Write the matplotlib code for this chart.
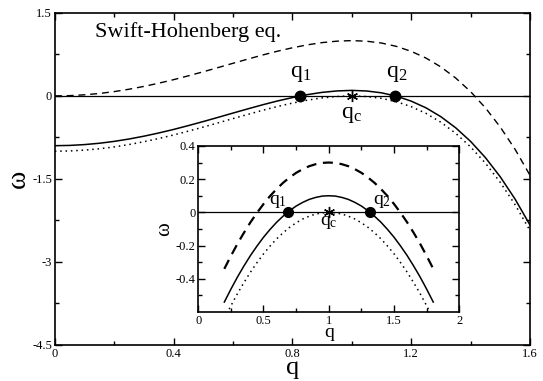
import matplotlib
matplotlib.use("Agg")
import matplotlib.pyplot as plt

plt.rcParams['font.family'] = ['Liberation Serif', 'DejaVu Serif']

# --- main panel data ---
q_main = [0.00, 0.05, 0.10, 0.15, 0.20, 0.25, 0.30, 0.35, 0.40, 0.45, 0.50,
          0.55, 0.60, 0.65, 0.70, 0.75, 0.80, 0.85, 0.90, 0.95, 1.00, 1.05,
          1.10, 1.15, 1.20, 1.25, 1.30, 1.35, 1.40, 1.45, 1.50, 1.55, 1.60]
w_main_solid = [-0.900, -0.895, -0.880, -0.856, -0.822, -0.779, -0.728, -0.670,
                -0.606, -0.536, -0.463, -0.387, -0.310, -0.234, -0.160, -0.091,
                -0.030, 0.023, 0.064, 0.090, 0.100, 0.089, 0.056, -0.004,
                -0.094, -0.216, -0.376, -0.577, -0.822, -1.116, -1.463, -1.867, -2.334]
w_main_dotted = [-1.000, -0.995, -0.980, -0.956, -0.922, -0.879, -0.828, -0.770,
                 -0.706, -0.636, -0.563, -0.487, -0.410, -0.334, -0.260, -0.191,
                 -0.130, -0.077, -0.036, -0.010, 0.000, -0.011, -0.044, -0.104,
                 -0.194, -0.316, -0.476, -0.677, -0.922, -1.216, -1.563, -1.967, -2.434]
w_main_dashed = [0.000, 0.005, 0.020, 0.044, 0.078, 0.121, 0.172, 0.230,
                 0.294, 0.364, 0.437, 0.513, 0.590, 0.666, 0.740, 0.809,
                 0.870, 0.923, 0.964, 0.990, 1.000, 0.989, 0.956, 0.896,
                 0.806, 0.684, 0.524, 0.323, 0.078, -0.216, -0.563, -0.967, -1.434]
q_main_marked = [0.827, 1.147]
q_main_crit = 1.0

# --- inset data ---
q_ins = [0.20, 0.25, 0.30, 0.35, 0.40, 0.45, 0.50, 0.55, 0.60, 0.65, 0.70,
         0.75, 0.80, 0.85, 0.90, 0.95, 1.00, 1.05, 1.10, 1.15, 1.20, 1.25,
         1.30, 1.35, 1.40, 1.45, 1.50, 1.55, 1.60, 1.65, 1.70, 1.75, 1.80]
w_ins_dotted = [-0.640, -0.563, -0.490, -0.423, -0.360, -0.303, -0.250, -0.203,
                -0.160, -0.123, -0.090, -0.063, -0.040, -0.023, -0.010, -0.003,
                0.000, -0.003, -0.010, -0.023, -0.040, -0.063, -0.090, -0.123,
                -0.160, -0.203, -0.250, -0.303, -0.360, -0.423, -0.490, -0.563, -0.640]
w_ins_solid = [-0.540, -0.463, -0.390, -0.323, -0.260, -0.203, -0.150, -0.103,
               -0.060, -0.023, 0.010, 0.038, 0.060, 0.078, 0.090, 0.098,
               0.100, 0.098, 0.090, 0.078, 0.060, 0.038, 0.010, -0.023,
               -0.060, -0.103, -0.150, -0.203, -0.260, -0.323, -0.390, -0.463, -0.540]
w_ins_dashed = [-0.340, -0.263, -0.190, -0.123, -0.060, -0.003, 0.050, 0.098,
                0.140, 0.178, 0.210, 0.238, 0.260, 0.278, 0.290, 0.298,
                0.300, 0.298, 0.290, 0.278, 0.260, 0.238, 0.210, 0.178,
                0.140, 0.098, 0.050, -0.003, -0.060, -0.123, -0.190, -0.263, -0.340]
q_ins_marked = [0.684, 1.316]
q_ins_crit = 1.0

main_xticks = [0, 0.4, 0.8, 1.2, 1.6]
main_xtick_labels = ['0', '0.4', '0.8', '1.2', '1.6']
main_yticks = [-4.5, -3, -1.5, 0, 1.5]
main_ytick_labels = ['-4.5', '-3', '-1.5', '0', '1.5']
ins_xticks = [0, 0.5, 1, 1.5, 2]
ins_xtick_labels = ['0', '0.5', '1', '1.5', '2']
ins_yticks = [-0.4, -0.2, 0, 0.2, 0.4]
ins_ytick_labels = ['-0.4', '-0.2', '0', '0.2', '0.4']


def style_axes(ax, xminor, yminor, size):
    ax.set_xticks(xminor, minor=True)
    ax.set_yticks(yminor, minor=True)
    ax.tick_params(which='both', direction='in', top=True, right=True,
                   labelsize=size, width=1, pad=2)
    ax.tick_params(which='major', length=5)
    ax.tick_params(which='minor', length=3)
    for s in ax.spines.values():
        s.set_linewidth(1.2)


fig = plt.figure(figsize=(5.43, 3.81), dpi=100)

# --- main panel ---
ax = fig.add_axes([0.101, 0.095, 0.875, 0.871])
ax.axhline(0, color='black', lw=0.9)
ax.plot(q_main, w_main_dashed, color='black', lw=1.0, ls=(0, (5, 3.5)))
ax.plot(q_main, w_main_solid, color='black', lw=1.1)
ax.plot(q_main, w_main_dotted, color='black', lw=1.1, ls=(0, (1, 2.5)))
ax.plot(q_main_marked, [0, 0], 'o', color='black', ms=7.5)
ax.plot([q_main_crit], [0], marker=(6, 2, 0), color='black', ms=8, mew=1)
ax.set_xlim(0, 1.6)
ax.set_ylim(-4.5, 1.5)
ax.set_xticks(main_xticks)
ax.set_xticklabels(main_xtick_labels)
ax.set_yticks(main_yticks)
ax.set_yticklabels(main_ytick_labels)
style_axes(ax, [0.2, 0.6, 1.0, 1.4], [-3.75, -2.25, -0.75, 0.75], 9)
ax.set_xlabel('q', fontsize=19, labelpad=-2)
ax.set_ylabel('ω', fontsize=20, labelpad=1)
ax.text(0.135, 1.16, 'Swift-Hohenberg eq.', fontsize=16, va='center', ha='left')
ax.text(q_main_marked[0], 0.4, r'$\mathregular{q_1}$', fontsize=17, ha='center', va='center')
ax.text(q_main_marked[1] + 0.005, 0.4, r'$\mathregular{q_2}$', fontsize=17, ha='center', va='center')
ax.text(q_main_crit, -0.33, r'$\mathregular{q_c}$', fontsize=17, ha='center', va='center')

# --- inset ---
ai = fig.add_axes([0.365, 0.181, 0.481, 0.436])
ai.axhline(0, color='black', lw=0.9)
ai.plot(q_ins, w_ins_dashed, color='black', lw=1.6, ls=(0, (4.5, 3)))
ai.plot(q_ins, w_ins_solid, color='black', lw=1.1)
ai.plot(q_ins, w_ins_dotted, color='black', lw=1.1, ls=(0, (1, 2.5)))
ai.plot(q_ins_marked, [0, 0], 'o', color='black', ms=7)
ai.plot([q_ins_crit], [0], marker=(6, 2, 0), color='black', ms=8, mew=1)
ai.set_xlim(0, 2)
ai.set_ylim(-0.6, 0.4)
ai.set_xticks(ins_xticks)
ai.set_xticklabels(ins_xtick_labels)
ai.set_yticks(ins_yticks)
ai.set_yticklabels(ins_ytick_labels)
style_axes(ai, [0.25, 0.75, 1.25, 1.75], [-0.5, -0.3, -0.1, 0.1, 0.3], 9)
ai.set_xlabel('q', fontsize=14, labelpad=-2)
ai.set_ylabel('ω', fontsize=15, labelpad=1)
ai.text(q_ins_marked[0] - 0.07, 0.065, r'$\mathregular{q_1}$', fontsize=14, ha='center', va='center')
ai.text(q_ins_marked[1] + 0.09, 0.065, r'$\mathregular{q_2}$', fontsize=14, ha='center', va='center')
ai.text(q_ins_crit, -0.06, r'$\mathregular{q_c}$', fontsize=14, ha='center', va='center')

fig.savefig('out.png', dpi=100)
